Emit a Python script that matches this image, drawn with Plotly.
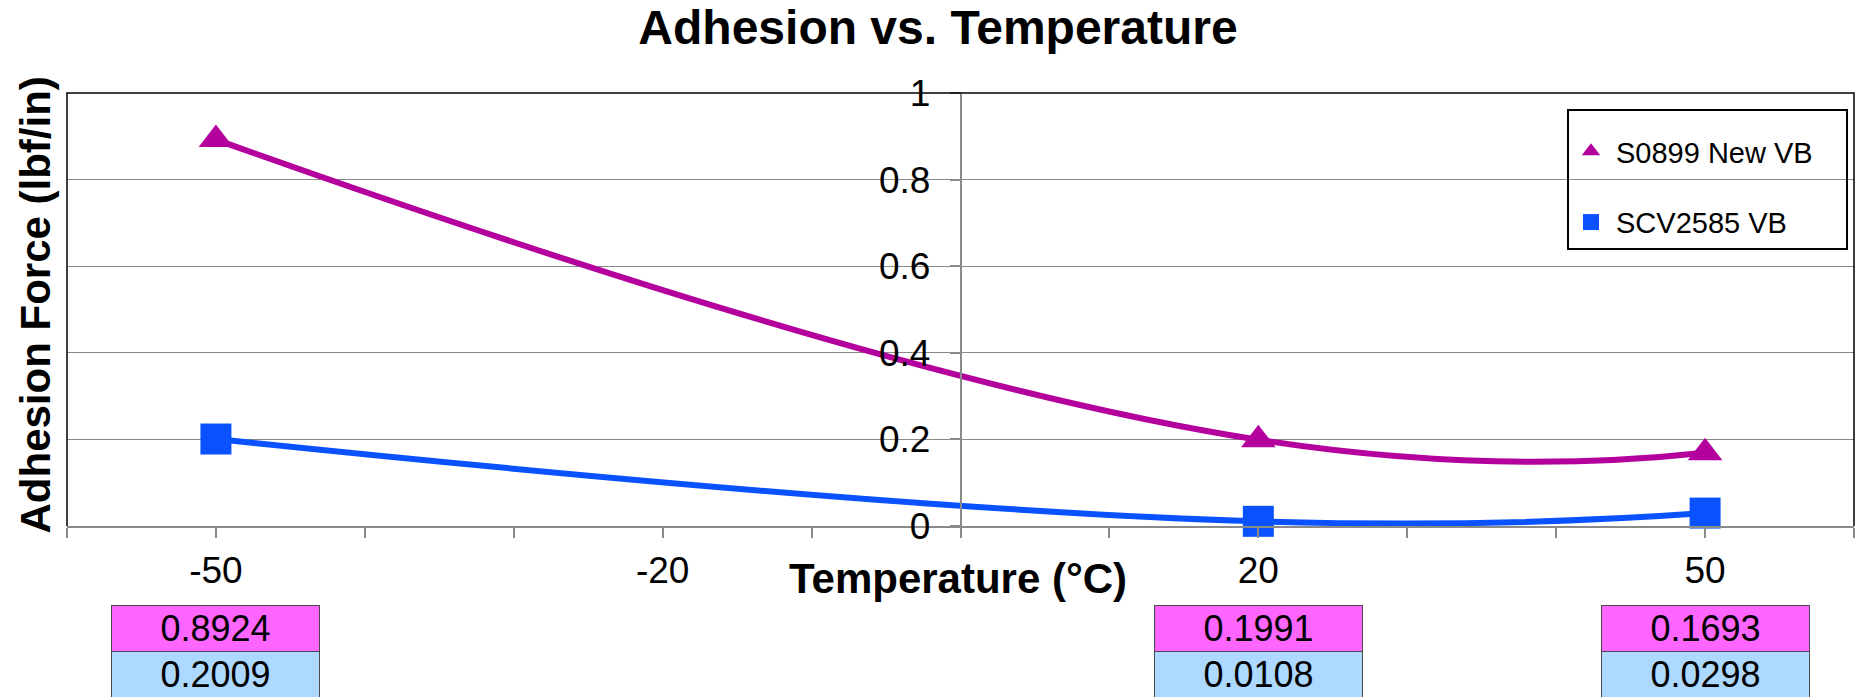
import plotly.graph_objects as go

# ---- data ----
temperatures = [-50, 20, 50]
s0899_new_vb = [0.8924, 0.1991, 0.1693]
scv2585_vb = [0.2009, 0.0108, 0.0298]
series_names = ["S0899 New VB", "SCV2585 VB"]
x_tick_vals = [-60, -50, -40, -30, -20, -10, 0, 10, 20, 30, 40, 50, 60]
x_tick_text = ["", "-50", "", "", "-20", "", "", "", "20", "", "", "50", ""]
y_tick_vals = [0, 0.2, 0.4, 0.6, 0.8, 1]

# ---- styles ----
FONT = "Liberation Sans, Arial, sans-serif"
MAGENTA = "#B4009C"
BLUE = "#0A52FF"
PINK_CELL = "#FF66FF"
BLUE_CELL = "#ADD8FF"
GRID = "#8A8A8A"

W, H = 1856, 697
ML, MR, MT, MB = 67, 2, 93, 171
PW = W - ML - MR
PH = H - MT - MB


def px_to_paper_x(px):
    return (px - ML) / PW


def px_to_paper_y(py):
    return (H - MB - py) / PH


fig = go.Figure()

# smoothed lines
for vals, col in [(s0899_new_vb, MAGENTA), (scv2585_vb, BLUE)]:
    fig.add_trace(go.Scatter(
        x=temperatures, y=vals, mode="lines",
        line=dict(color=col, width=6, shape="spline", smoothing=1.3),
        showlegend=False, hoverinfo="skip", cliponaxis=False,
    ))

# markers (legend entries)
fig.add_trace(go.Scatter(
    x=temperatures, y=s0899_new_vb, mode="markers", name=series_names[0],
    marker=dict(symbol="triangle-up", size=30, color=MAGENTA, line=dict(width=0)),
    legendgroup="a", cliponaxis=False,
))
fig.add_trace(go.Scatter(
    x=temperatures, y=scv2585_vb, mode="markers", name=series_names[1],
    marker=dict(symbol="square", size=31, color=BLUE, line=dict(width=0)),
    legendgroup="b", cliponaxis=False,
))

# data table cells under the x axis
for t, a, b in zip(temperatures, s0899_new_vb, scv2585_vb):
    for val, bg, py in [(a, PINK_CELL, 628), (b, BLUE_CELL, 674.5)]:
        fig.add_annotation(
            x=t, xref="x", y=px_to_paper_y(py), yref="paper",
            text=f"{val:.4f}", showarrow=False,
            font=dict(family=FONT, size=36, color="black"),
            bgcolor=bg, bordercolor="#4A4A4A", borderwidth=1, borderpad=0,
            width=207, height=45, xanchor="center", yanchor="middle",
        )

# axis titles
fig.add_annotation(
    x=px_to_paper_x(35), xref="paper", y=px_to_paper_y(305.5), yref="paper",
    text="<b>Adhesion Force (lbf/in)</b>", textangle=-90, showarrow=False,
    font=dict(family=FONT, size=42, color="black"),
    xanchor="center", yanchor="middle",
)
fig.add_annotation(
    x=px_to_paper_x(958), xref="paper", y=px_to_paper_y(578), yref="paper",
    text="<b>Temperature (°C)</b>", showarrow=False,
    font=dict(family=FONT, size=42, color="black"),
    xanchor="center", yanchor="middle",
)

# plot-area border (left, top, right)
fig.add_shape(
    type="path", xref="paper", yref="paper",
    path="M0,0 L0,1 L1,1 L1,0",
    line=dict(color="black", width=1.5), layer="above",
)
# legend box
fig.add_shape(
    type="rect", xref="paper", yref="paper",
    x0=px_to_paper_x(1568), x1=px_to_paper_x(1847),
    y0=px_to_paper_y(249), y1=px_to_paper_y(110),
    line=dict(color="black", width=2), fillcolor="rgba(0,0,0,0)", layer="above",
)

fig.update_layout(
    width=W, height=H,
    margin=dict(l=ML, r=MR, t=MT, b=MB, pad=0),
    paper_bgcolor="white", plot_bgcolor="white",
    font=dict(family=FONT, color="black"),
    title=dict(
        text="<b>Adhesion vs. Temperature</b>",
        font=dict(family=FONT, size=48, color="black"),
        x=938 / W, xref="container", xanchor="center",
        y=1 - 27 / H, yref="container", yanchor="middle",
    ),
    xaxis=dict(
        range=[-60, 60], tickmode="array", tickvals=x_tick_vals, ticktext=x_tick_text,
        showgrid=False, zeroline=False,
        showline=True, linecolor=GRID, linewidth=1.5,
        ticks="outside", ticklen=10, tickwidth=1.5, tickcolor=GRID,
        tickfont=dict(family=FONT, size=37, color="black"),
        ticklabelstandoff=1,
    ),
    yaxis=dict(
        range=[0, 1], tickmode="array", tickvals=y_tick_vals,
        showgrid=True, gridcolor=GRID, gridwidth=1.3,
        zeroline=False,
        showline=True, linecolor=GRID, linewidth=1.5,
        ticks="outside", ticklen=10, tickwidth=1.5, tickcolor=GRID,
        tickfont=dict(family=FONT, size=37, color="black"),
        anchor="free", position=0.5, ticklabelstandoff=12,
    ),
    legend=dict(
        x=px_to_paper_x(1566), xanchor="left", xref="paper",
        y=px_to_paper_y(126), yanchor="top", yref="paper",
        bgcolor="rgba(0,0,0,0)", borderwidth=0,
        font=dict(family=FONT, size=29, color="black"),
        tracegroupgap=30, traceorder="grouped", itemwidth=40,
    ),
    showlegend=True,
)

fig.write_html("out.html")
